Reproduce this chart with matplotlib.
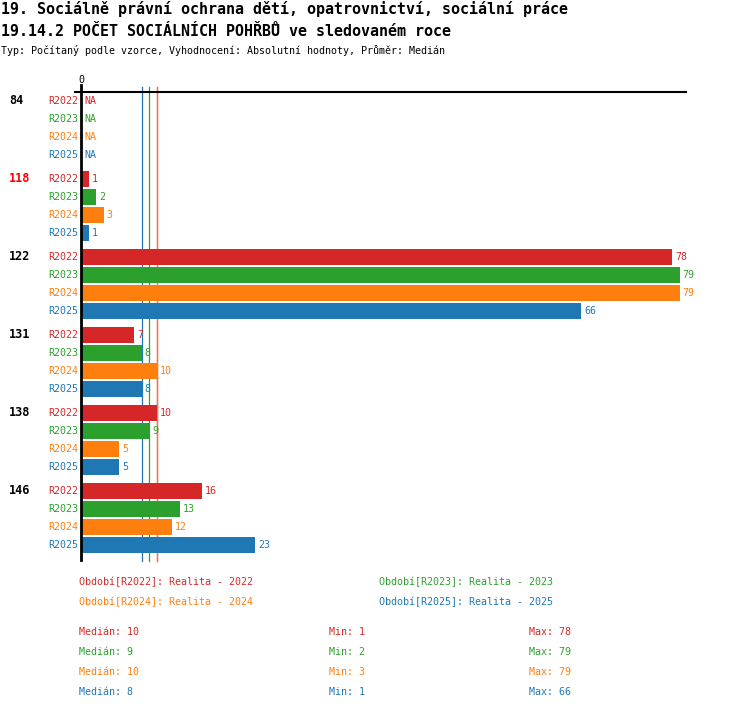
import matplotlib
matplotlib.use("Agg")
import matplotlib.pyplot as plt
from matplotlib.transforms import blended_transform_factory
import numpy as np

plt.rcParams['font.family'] = ['DejaVu Sans Mono']

title1 = "19. Sociálně právní ochrana dětí, opatrovnictví, sociální práce"
title2 = "19.14.2 POČET SOCIÁLNÍCH POHŘBŮ ve sledovaném roce"
subtitle = "Typ: Počítaný podle vzorce, Vyhodnocení: Absolutní hodnoty, Průměr: Medián"

categories = ["84", "118", "122", "131", "138", "146"]
highlight = "118"
series = ["R2022", "R2023", "R2024", "R2025"]
colors = ["#d62728", "#2ca02c", "#ff7f0e", "#1f77b4"]
values = {
    "R2022": [None, 1, 78, 7, 10, 16],
    "R2023": [None, 2, 79, 8, 9, 13],
    "R2024": [None, 3, 79, 10, 5, 12],
    "R2025": [None, 1, 66, 8, 5, 23],
}
legend_labels = ["Období[R2022]: Realita - 2022", "Období[R2023]: Realita - 2023",
                 "Období[R2024]: Realita - 2024", "Období[R2025]: Realita - 2025"]
medians = [10, 9, 10, 8]
mins = [1, 2, 3, 1]
maxs = [78, 79, 79, 66]

W, H = 750, 710
fig = plt.figure(figsize=(7.5, 7.1), dpi=100)

def fx(px):
    return px / W

def fy(py):
    return 1 - py / H

# axes: pixel box left 75, right 686, top 92, bottom 562
ax = fig.add_axes([fx(75), fy(562), fx(686) - fx(75), (562 - 92) / H])
scale = 7.58
ax.set_xlim(-(81 - 75) / scale, (686 - 81) / scale)
group_step = 78 / 18
ytop = -0.5
ybot = ytop + (562 - 92) / 18
ax.set_ylim(ybot, ytop)
for s in ["left", "right", "bottom"]:
    ax.spines[s].set_visible(False)
ax.spines["top"].set_linewidth(1.5)
ax.set_xticks([])
ax.set_yticks([])

small = 7.2
# median lines
for med, c in zip(medians, colors):
    ax.plot([med, med], [ytop - 5 / 18, ybot - 1 / 18], color=c, lw=0.9, zorder=1, clip_on=False)

# zero line
ax.plot([0, 0], [ytop - 7 / 18, ybot - 2 / 18], color="black", lw=2.0, zorder=4, clip_on=False)
ax.text(0, ytop - 12 / 18, "0", ha="center", va="center", fontsize=small)

cat_tr = blended_transform_factory(fig.transFigure, ax.transData)
for i, cat in enumerate(categories):
    base = i * group_step
    ax.text(fx(9), base, cat, transform=cat_tr, ha="left", va="center",
            fontsize=8.5, fontweight="bold",
            color="#ff0000" if cat == highlight else "black")
    for j, s in enumerate(series):
        y = base + j
        v = values[s][i]
        ax.annotate(s, (0, y), xytext=(-3, 0), textcoords="offset pixels",
                    ha="right", va="center", fontsize=small, color=colors[j],
                    annotation_clip=False)
        if v is None:
            ax.annotate("NA", (0, y), xytext=(3, 0), textcoords="offset pixels",
                        ha="left", va="center", fontsize=small, color=colors[j])
        else:
            ax.barh(y, v, height=16 / 18, color=colors[j], zorder=3)
            ax.annotate(str(v), (v, y), xytext=(3, 0), textcoords="offset pixels",
                        ha="left", va="center", fontsize=small, color=colors[j])

# titles
fig.text(fx(1), fy(9), title1, ha="left", va="center", fontsize=10.8, fontweight="bold")
fig.text(fx(1), fy(31), title2, ha="left", va="center", fontsize=10.8, fontweight="bold")
fig.text(fx(1), fy(50), subtitle, ha="left", va="center", fontsize=small)

# legend
leg_pos = [(79, 582), (379, 582), (79, 602), (379, 602)]
for (x, y), lab, c in zip(leg_pos, legend_labels, colors):
    fig.text(fx(x), fy(y), lab, ha="left", va="center", fontsize=small, color=c)

# stats
for k, c in enumerate(colors):
    y = 632 + 20 * k
    fig.text(fx(79), fy(y), f"Medián: {medians[k]}", ha="left", va="center", fontsize=small, color=c)
    fig.text(fx(329), fy(y), f"Min: {mins[k]}", ha="left", va="center", fontsize=small, color=c)
    fig.text(fx(529), fy(y), f"Max: {maxs[k]}", ha="left", va="center", fontsize=small, color=c)

fig.savefig("out.png", dpi=100)
